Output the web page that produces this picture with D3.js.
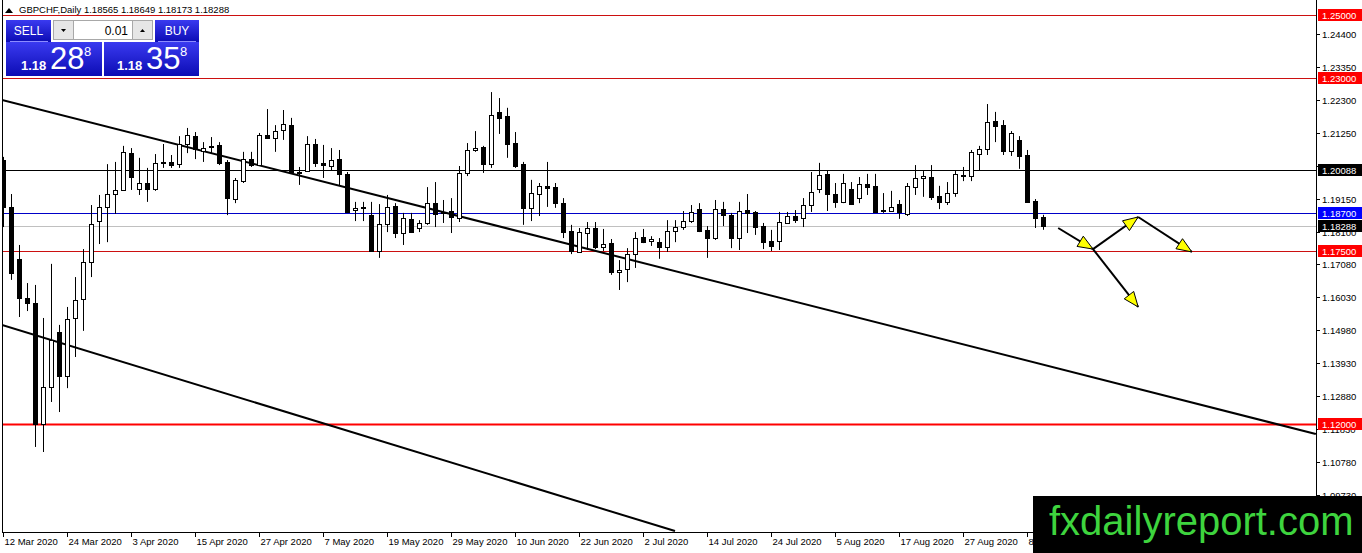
<!DOCTYPE html>
<html>
<head>
<meta charset="utf-8">
<script src="https://cdn.jsdelivr.net/npm/d3@7/dist/d3.min.js"></script>
<style>
  body { margin: 0; background: #fff; }
  svg { display: block; }
  text { font-family: "Liberation Sans", Arial, sans-serif; }
</style>
</head>
<body>
<div id="chart"></div>
<script>
// GBPCHF daily candles, 12 Mar 2020 .. 10 Sep 2020 (one entry per bar)
var opens = [
  1.2039, 1.1890, 1.1724, 1.1600, 1.1585, 1.1200, 1.1318, 1.1492, 1.1353, 1.1537,
  1.1597, 1.1715, 1.1845, 1.1890, 1.1931, 1.1944, 1.2061, 1.1947, 1.1966, 1.1947,
  1.2033, 1.2033, 1.2026, 1.2090, 1.2115, 1.2068, 1.2084, 1.2087, 1.2033, 1.1915,
  1.1972, 1.2042, 1.2023, 1.2119, 1.2109, 1.2135, 1.2150, 1.1998, 1.2004, 1.2090,
  1.2030, 1.2020, 1.2042, 1.1995, 1.1880, 1.1887, 1.1864, 1.1750, 1.1836, 1.1893,
  1.1807, 1.1852, 1.1823, 1.1839, 1.1902, 1.1874, 1.1877, 1.1855, 1.1998, 1.2071,
  1.2080, 1.2026, 1.2192, 1.2179, 1.2093, 1.2026, 1.1887, 1.1931, 1.1957, 1.1953,
  1.1902, 1.1813, 1.1747, 1.1807, 1.1823, 1.1763, 1.1775, 1.1683, 1.1693, 1.1740,
  1.1794, 1.1782, 1.1778, 1.1763, 1.1813, 1.1826, 1.1845, 1.1883, 1.1817, 1.1791,
  1.1883, 1.1864, 1.1791, 1.1880, 1.1874, 1.1829, 1.1782, 1.1782, 1.1839, 1.1861,
  1.1855, 1.1896, 1.1947, 1.1995, 1.1931, 1.1906, 1.1947, 1.1918, 1.1963, 1.1957,
  1.1877, 1.1877, 1.1899, 1.1868, 1.1953, 1.1982, 1.1985, 1.1925, 1.1906, 1.1934,
  1.1991, 1.1988, 1.2058, 1.2074, 1.2163, 1.2150, 1.2068, 1.2103, 1.2055, 1.1909,
  1.18565
];
var highs = [
  1.2049, 1.1931, 1.1769, 1.1648, 1.1642, 1.1537, 1.1709, 1.1515, 1.1572, 1.1667,
  1.1756, 1.1896, 1.1928, 1.2026, 1.2033, 1.2084, 1.2077, 1.2046, 1.2014, 1.2058,
  1.2090, 1.2055, 1.2115, 1.2141, 1.2128, 1.2096, 1.2112, 1.2096, 1.2039, 1.1982,
  1.2065, 1.2065, 1.2125, 1.2201, 1.2150, 1.2198, 1.2173, 1.2017, 1.2115, 1.2106,
  1.2087, 1.2077, 1.2071, 1.2001, 1.1906, 1.1906, 1.1906, 1.1899, 1.1928, 1.1902,
  1.1871, 1.1871, 1.1848, 1.1953, 1.1969, 1.1912, 1.1918, 1.2020, 1.2093, 1.2131,
  1.2084, 1.2255, 1.2236, 1.2205, 1.2128, 1.2033, 1.1976, 1.1966, 1.2033, 1.1966,
  1.1918, 1.1833, 1.1823, 1.1842, 1.1842, 1.1820, 1.1788, 1.1721, 1.1759, 1.1810,
  1.1820, 1.1797, 1.1791, 1.1848, 1.1848, 1.1877, 1.1896, 1.1902, 1.1829, 1.1912,
  1.1906, 1.1871, 1.1906, 1.1931, 1.1877, 1.1839, 1.1817, 1.1874, 1.1874, 1.1880,
  1.1918, 1.2001, 1.2030, 1.2007, 1.1966, 1.1995, 1.1969, 1.1985, 1.1995, 1.1995,
  1.1934, 1.1941, 1.1912, 1.1966, 1.2023, 1.2004, 1.2023, 1.1957, 1.1969, 1.2004,
  1.2017, 1.2071, 1.2084, 1.2217, 1.2192, 1.2166, 1.2131, 1.2115, 1.2071, 1.1915,
  1.18649
];
var lows = [
  1.1826, 1.1658, 1.1540, 1.1559, 1.1127, 1.1111, 1.1270, 1.1238, 1.1314, 1.1413,
  1.1496, 1.1667, 1.1772, 1.1778, 1.1868, 1.1941, 1.1944, 1.1928, 1.1906, 1.1941,
  1.2014, 1.2014, 1.2014, 1.2061, 1.2042, 1.2033, 1.2061, 1.2023, 1.1864, 1.1902,
  1.1966, 1.2017, 1.2020, 1.2106, 1.2065, 1.2103, 1.1998, 1.1960, 1.2001, 1.2017,
  1.1982, 1.2007, 1.1957, 1.1874, 1.1845, 1.1845, 1.1749, 1.1728, 1.1810, 1.1791,
  1.1769, 1.1807, 1.1810, 1.1833, 1.1826, 1.1839, 1.1807, 1.1842, 1.1988, 1.2065,
  1.1998, 1.2014, 1.2122, 1.2046, 1.2014, 1.1833, 1.1845, 1.1861, 1.1890, 1.1887,
  1.1791, 1.1740, 1.1744, 1.1753, 1.1756, 1.1750, 1.1674, 1.1626, 1.1651, 1.1696,
  1.1775, 1.1766, 1.1725, 1.1747, 1.1778, 1.1817, 1.1839, 1.1810, 1.1728, 1.1785,
  1.1829, 1.1759, 1.1753, 1.1807, 1.1801, 1.1756, 1.1750, 1.1753, 1.1836, 1.1839,
  1.1826, 1.1874, 1.1934, 1.1877, 1.1887, 1.1902, 1.1896, 1.1902, 1.1928, 1.1871,
  1.1871, 1.1874, 1.1852, 1.1861, 1.1928, 1.1922, 1.1912, 1.1883, 1.1896, 1.1922,
  1.1972, 1.1972, 1.2007, 1.2055, 1.2096, 1.2055, 1.2052, 1.2011, 1.1904, 1.1823,
  1.18173
];
var closes = [
  1.1890, 1.1680, 1.1600, 1.1585, 1.1200, 1.1318, 1.1467, 1.1353, 1.1534, 1.1594,
  1.1715, 1.1836, 1.1890, 1.1931, 1.1944, 1.2065, 1.1985, 1.1966, 1.1947, 1.2030,
  1.2031, 1.2023, 1.2090, 1.2119, 1.2074, 1.2077, 1.2079, 1.2030, 1.1918, 1.1976,
  1.2042, 1.2023, 1.2119, 1.2109, 1.2131, 1.2154, 1.2001, 1.2001, 1.2090, 1.2030,
  1.2023, 1.2039, 1.1995, 1.1875, 1.1887, 1.1890, 1.1750, 1.1836, 1.1890, 1.1807,
  1.1855, 1.1810, 1.1839, 1.1902, 1.1868, 1.1871, 1.1858, 1.1998, 1.2071, 1.2077,
  1.2026, 1.2182, 1.2173, 1.2090, 1.2020, 1.1887, 1.1934, 1.1957, 1.1950, 1.1902,
  1.1810, 1.1750, 1.1810, 1.1823, 1.1763, 1.1772, 1.1683, 1.1690, 1.1740, 1.1791,
  1.1778, 1.1788, 1.1763, 1.1813, 1.1826, 1.1845, 1.1874, 1.1813, 1.1791, 1.1883,
  1.1864, 1.1791, 1.1877, 1.1871, 1.1826, 1.1778, 1.1766, 1.1842, 1.1861, 1.1848,
  1.1896, 1.1937, 1.1991, 1.1931, 1.1906, 1.1966, 1.1899, 1.1963, 1.1953, 1.1874,
  1.1879, 1.1890, 1.1874, 1.1957, 1.1982, 1.1988, 1.1922, 1.1906, 1.1934, 1.1995,
  1.1992, 1.2065, 1.2074, 1.2160, 1.2147, 1.2068, 1.2125, 1.2052, 1.1906, 1.1855,
  1.18288
];

// time axis labels, one every 8 bars
var dateLabels = ["12 Mar 2020", "24 Mar 2020", "3 Apr 2020", "15 Apr 2020", "27 Apr 2020",
  "7 May 2020", "19 May 2020", "29 May 2020", "10 Jun 2020", "22 Jun 2020", "2 Jul 2020",
  "14 Jul 2020", "24 Jul 2020", "5 Aug 2020", "17 Aug 2020", "27 Aug 2020", "8 Sep 2020"];
var dateStep = 8;

// price axis labels
var priceTicks = ["1.24400", "1.23350", "1.22300", "1.21250", "1.20200", "1.19150", "1.18100",
  "1.17080", "1.16030", "1.14980", "1.13930", "1.12880", "1.11830", "1.10780", "1.09730"];

// horizontal levels: price, kind
var levelPrices = [1.25000, 1.23000, 1.20088, 1.18700, 1.18288, 1.17500, 1.12000];
var levelKinds = ["red", "red", "black", "blue", "bid", "red", "redBold"];

// trend lines, [bar index, price] endpoints
var trendUpper = [[-0.125, 1.22298], [164.1, 1.11682]];
var trendLower = [[-0.125, 1.15146], [84.0, 1.08598]];

// forecast arrows, [bar index, price] endpoints
var arrows = [
  [[131.9, 1.1823], [136.25, 1.1756]],
  [[136.25, 1.1756], [141.9, 1.1858]],
  [[141.9, 1.1858], [148.6, 1.1747]],
  [[136.25, 1.1756], [141.9, 1.1572]]
];

var header = "GBPCHF,Daily  1.18565 1.18649 1.18173 1.18288";

var width = 1362, height = 553;
var plotLeft = 2, plotRight = 1316, plotTop = 0, plotBottom = 532;

var svg = d3.select("#chart").append("svg")
  .attr("width", width)
  .attr("height", height);

var x = d3.scaleLinear().domain([0, 130]).range([3, 1043]);
var y = d3.scaleLinear().domain([1.12, 1.25]).range([424, 15]);

var defs = svg.append("defs");
defs.append("clipPath").attr("id", "plot")
  .append("rect")
  .attr("x", plotLeft).attr("y", plotTop)
  .attr("width", plotRight - plotLeft).attr("height", plotBottom - plotTop);

var grad = defs.append("linearGradient").attr("id", "blueGrad")
  .attr("x1", 0).attr("y1", 0).attr("x2", 0).attr("y2", 1);
grad.append("stop").attr("offset", "0%").attr("stop-color", "#3a3af0");
grad.append("stop").attr("offset", "100%").attr("stop-color", "#0c0cb4");

var plot = svg.append("g").attr("clip-path", "url(#plot)");

// levels
var levelStyle = {
  red:     { stroke: "#cc1010", width: 1, box: "#ff0000" },
  redBold: { stroke: "#ff0000", width: 2, box: "#ff0000" },
  black:   { stroke: "#000000", width: 1, box: "#000000" },
  blue:    { stroke: "#0000c8", width: 1, box: "#0000ff" },
  bid:     { stroke: "#c0c0c0", width: 1, box: "#000000" }
};

plot.selectAll("line.level")
  .data(levelPrices)
  .enter()
  .append("line")
  .attr("class", "level")
  .attr("x1", plotLeft).attr("x2", plotRight)
  .attr("y1", function(d) { return Math.round(y(d)) + 0.5; })
  .attr("y2", function(d) { return Math.round(y(d)) + 0.5; })
  .attr("stroke", function(d, i) { return levelStyle[levelKinds[i]].stroke; })
  .attr("stroke-width", function(d, i) { return levelStyle[levelKinds[i]].width; });

// trend lines
[trendUpper, trendLower].forEach(function(t) {
  plot.append("line")
    .attr("x1", x(t[0][0])).attr("y1", y(t[0][1]))
    .attr("x2", x(t[1][0])).attr("y2", y(t[1][1]))
    .attr("stroke", "#000")
    .attr("stroke-width", 2);
});

// candles
var candles = d3.range(opens.length);

plot.selectAll("line.wick")
  .data(candles)
  .enter()
  .append("line")
  .attr("class", "wick")
  .attr("x1", function(i) { return Math.round(x(i)) + 0.5; })
  .attr("x2", function(i) { return Math.round(x(i)) + 0.5; })
  .attr("y1", function(i) { return y(highs[i]); })
  .attr("y2", function(i) { return y(lows[i]); })
  .attr("stroke", "#000")
  .attr("stroke-width", 1);

plot.selectAll("rect.body")
  .data(candles)
  .enter()
  .append("rect")
  .attr("class", "body")
  .attr("x", function(i) { return Math.round(x(i)) - 1.5; })
  .attr("width", 4)
  .attr("y", function(i) { return Math.round(y(Math.max(opens[i], closes[i]))) + 0.5; })
  .attr("height", function(i) {
    return Math.max(1, Math.round(y(Math.min(opens[i], closes[i]))) - Math.round(y(Math.max(opens[i], closes[i]))));
  })
  .attr("fill", function(i) { return closes[i] >= opens[i] ? "#fff" : "#000"; })
  .attr("stroke", "#000")
  .attr("stroke-width", 1);

// forecast arrows
arrows.forEach(function(a) {
  var x1 = x(a[0][0]), y1 = y(a[0][1]), x2 = x(a[1][0]), y2 = y(a[1][1]);
  plot.append("line")
    .attr("x1", x1).attr("y1", y1).attr("x2", x2).attr("y2", y2)
    .attr("stroke", "#000").attr("stroke-width", 2);
  var ang = Math.atan2(y2 - y1, x2 - x1);
  var len = 15, half = 6;
  var bx = x2 - len * Math.cos(ang), by = y2 - len * Math.sin(ang);
  var pts = [
    [x2, y2],
    [bx + half * Math.sin(ang), by - half * Math.cos(ang)],
    [bx - half * Math.sin(ang), by + half * Math.cos(ang)]
  ];
  plot.append("path")
    .attr("d", "M" + pts.join("L") + "Z")
    .attr("fill", "#ffff00")
    .attr("stroke", "#000")
    .attr("stroke-width", 1);
});

// frame
svg.append("line").attr("x1", plotLeft + 0.5).attr("x2", plotLeft + 0.5)
  .attr("y1", 0).attr("y2", plotBottom).attr("stroke", "#000");
svg.append("line").attr("x1", plotRight + 0.5).attr("x2", plotRight + 0.5)
  .attr("y1", 0).attr("y2", plotBottom + 1).attr("stroke", "#000");
svg.append("line").attr("x1", plotLeft).attr("x2", plotRight + 1)
  .attr("y1", plotBottom + 0.5).attr("y2", plotBottom + 0.5).attr("stroke", "#000");

// price axis
var yAxis = svg.append("g");
priceTicks.forEach(function(t) {
  var py = Math.round(y(+t)) + 0.5;
  yAxis.append("line").attr("x1", plotRight).attr("x2", plotRight + 4)
    .attr("y1", py).attr("y2", py).attr("stroke", "#000");
  yAxis.append("text").attr("x", plotRight + 6).attr("y", py + 3.5)
    .attr("font-size", "9.5px").attr("fill", "#000").text(t);
});

// level price boxes
levelPrices.forEach(function(p, i) {
  var py = Math.round(y(p));
  yAxis.append("rect")
    .attr("x", plotRight + 2).attr("y", py - 6)
    .attr("width", 44).attr("height", 12)
    .attr("fill", levelStyle[levelKinds[i]].box);
  yAxis.append("text").attr("x", plotRight + 6).attr("y", py + 3.5)
    .attr("font-size", "9.5px").attr("fill", "#fff").text(p.toFixed(5));
});

// time axis
var xAxis = svg.append("g");
dateLabels.forEach(function(d, k) {
  var px = Math.round(x(k * dateStep)) + 0.5;
  xAxis.append("line").attr("x1", px).attr("x2", px)
    .attr("y1", plotBottom).attr("y2", plotBottom + 5).attr("stroke", "#000");
  xAxis.append("text").attr("x", px + 1).attr("y", plotBottom + 13)
    .attr("font-size", "9.5px").attr("fill", "#000").text(d);
});

// header
svg.append("path").attr("d", "M5,13 L9,8 L13,13 Z").attr("fill", "#000");
svg.append("text").attr("x", 19).attr("y", 13).attr("font-size", "9.5px")
  .attr("fill", "#000").text(header);

// one-click trading panel
var panel = svg.append("g");
panel.append("rect").attr("x", 6).attr("y", 20).attr("width", 45).attr("height", 22).attr("fill", "url(#blueGrad)");
panel.append("rect").attr("x", 155).attr("y", 20).attr("width", 44).attr("height", 22).attr("fill", "url(#blueGrad)");
panel.append("rect").attr("x", 6).attr("y", 42).attr("width", 96).attr("height", 34).attr("fill", "url(#blueGrad)");
panel.append("rect").attr("x", 104).attr("y", 42).attr("width", 95).attr("height", 34).attr("fill", "url(#blueGrad)");
panel.append("line").attr("x1", 10).attr("x2", 48).attr("y1", 41.5).attr("y2", 41.5).attr("stroke", "#8c8cff");
panel.append("line").attr("x1", 158).attr("x2", 196).attr("y1", 41.5).attr("y2", 41.5).attr("stroke", "#8c8cff");

panel.append("rect").attr("x", 53.5).attr("y", 20.5).attr("width", 20).attr("height", 19)
  .attr("fill", "#e6e6e6").attr("stroke", "#a8a8a8");
panel.append("rect").attr("x", 73.5).attr("y", 20.5).attr("width", 59).attr("height", 19)
  .attr("fill", "#fff").attr("stroke", "#a8a8a8");
panel.append("rect").attr("x", 132.5).attr("y", 20.5).attr("width", 20).attr("height", 19)
  .attr("fill", "#e6e6e6").attr("stroke", "#a8a8a8");
panel.append("path").attr("d", "M61,29 L66,29 L63.5,32 Z").attr("fill", "#000");
panel.append("path").attr("d", "M140,32 L145,32 L142.5,29 Z").attr("fill", "#000");

panel.append("text").attr("x", 128).attr("y", 35).attr("text-anchor", "end")
  .attr("font-family", "'Noto Sans', sans-serif").attr("font-size", "12px").attr("fill", "#000").text("0.01");
panel.append("text").attr("x", 28.5).attr("y", 35).attr("text-anchor", "middle")
  .attr("font-family", "'Noto Sans', sans-serif").attr("font-size", "12px").attr("fill", "#fff").text("SELL");
panel.append("text").attr("x", 177).attr("y", 35).attr("text-anchor", "middle")
  .attr("font-family", "'Noto Sans', sans-serif").attr("font-size", "12px").attr("fill", "#fff").text("BUY");

function quote(x0, big) {
  panel.append("text").attr("x", x0).attr("y", 70)
    .attr("font-family", "'Noto Sans', sans-serif").attr("font-size", "13px")
    .attr("font-weight", "bold").attr("fill", "#fff").text("1.18");
  panel.append("text").attr("x", x0 + 29).attr("y", 69)
    .attr("font-family", "'Noto Sans', sans-serif").attr("font-size", "31px")
    .attr("fill", "#fff").text(big);
  panel.append("text").attr("x", x0 + 63).attr("y", 56)
    .attr("font-family", "'Noto Sans', sans-serif").attr("font-size", "13px")
    .attr("fill", "#fff").text("8");
}
quote(21, "28");
quote(117, "35");

// watermark
svg.append("rect").attr("x", 1033).attr("y", 496).attr("width", 329).attr("height", 57).attr("fill", "#000");
svg.append("text").attr("x", 1049).attr("y", 535)
  .attr("font-size", "40px").attr("fill", "#3ed43e").text("fxdailyreport.com");
</script>
</body>
</html>
